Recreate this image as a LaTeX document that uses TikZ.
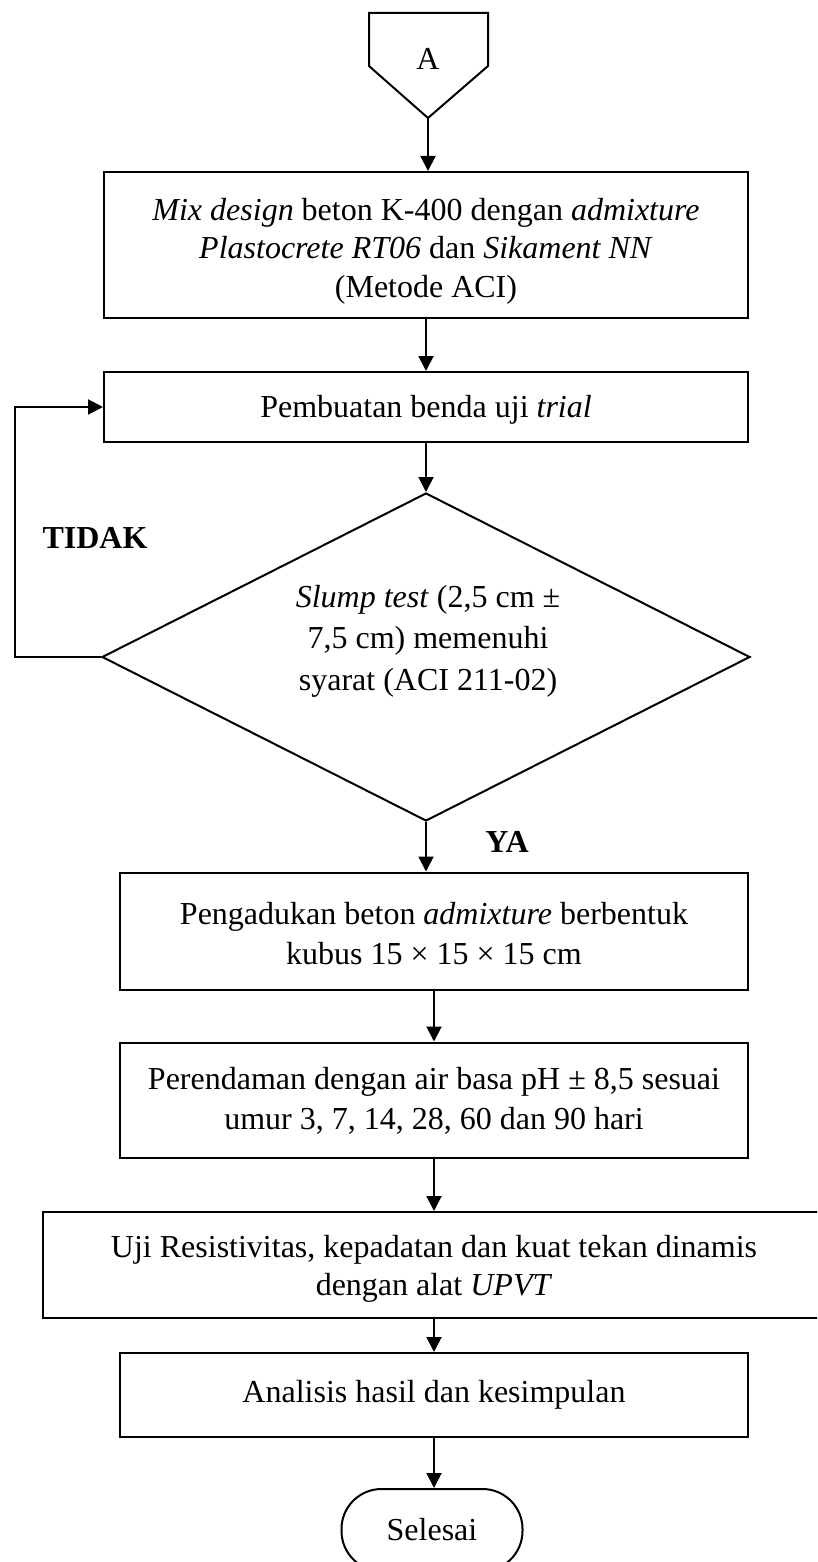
\documentclass[tikz,border=0pt]{standalone}
\usepackage{fontspec}
\setmainfont{Liberation Serif}
\usetikzlibrary{shapes.geometric,arrows.meta}
\begin{document}
\begin{tikzpicture}[x=1pt,y=-1pt,
  txt/.style={align=center, inner sep=0pt, font=\fontsize{32}{39}\selectfont},
  box/.style={draw, line width=2pt, inner sep=0pt},
  flow/.style={line width=2pt, -{Triangle[width=15pt,length=15pt]}},
  lbl/.style={font=\fontsize{32}{39}\selectfont\bfseries}]
\useasboundingbox (0,0) rectangle (817,1562);
\clip (0,0) rectangle (817,1562);
% off-page connector
\draw[line width=2pt, line join=miter] (369,13) -- (488,13) -- (488,66) -- (428,118) -- (369,66) -- cycle;
\coordinate (pa) at (428,118);
\node[txt] (A) at (428,59) {A};
% boxes
\node[box, minimum width=644pt, minimum height=146pt] (b1) at (426,245) {};
\node[txt, font=\fontsize{32}{38.5}\selectfont] (t1) at (426,251)
  {\textit{Mix design} beton K-400 dengan \textit{admixture}\\ \textit{Plastocrete RT06} dan \textit{Sikament NN}\\(Metode ACI)};
\node[box, minimum width=644pt, minimum height=70pt] (b2) at (426,407) {};
\node[txt] (t2) at (426,410) {Pembuatan benda uji \textit{trial}};
\node[draw, diamond, line width=2pt, minimum width=648pt, minimum height=328pt, inner sep=0pt] (d) at (426,657) {};
\node[txt, font=\fontsize{32}{41.5}\selectfont] (dt) at (428,641) {\textit{Slump test} (2,5 cm ±\\7,5 cm) memenuhi\\syarat (ACI 211-02)};
\node[box, minimum width=628pt, minimum height=117pt] (b3) at (434,931) {};
\node[txt, font=\fontsize{32}{40}\selectfont] (t3) at (434,934)
  {Pengadukan beton \textit{admixture} berbentuk\\kubus 15 × 15 × 15 cm};
\node[box, minimum width=628pt, minimum height=115pt] (b4) at (434,1100) {};
\node[txt, font=\fontsize{32}{40}\selectfont] (t4) at (434,1101)
  {Perendaman dengan air basa pH ± 8,5 sesuai\\umur 3, 7, 14, 28, 60 dan 90 hari};
\node[box, minimum width=782pt, minimum height=106pt] (b5) at (434,1265) {};
\node[txt, font=\fontsize{32}{38}\selectfont] (t5) at (434,1269)
  {Uji Resistivitas, kepadatan dan kuat tekan dinamis\\dengan alat \textit{UPVT}};
\node[box, minimum width=628pt, minimum height=84pt] (b6) at (434,1395) {};
\node[txt] (t6) at (434,1395) {Analisis hasil dan kesimpulan};
\node[box, rounded corners=40pt, minimum width=181pt, minimum height=82pt] (t) at (432,1530) {};
\node[txt] (tt) at (432,1530) {Selesai};
% labels
\node[lbl] (tidak) at (95,538) {TIDAK};
\node[lbl] (ya) at (507,842) {YA};
% connectors
\coordinate (lp) at (15,657);
\draw[flow] (d.west) -- (lp) -- (lp |- b2.west) -- (b2.west);
\draw[flow] (pa) -- (pa |- b1.north);
\draw[flow] (b1.south) -- (b2.north);
\draw[flow] (b2.south) -- (d.north);
\draw[flow] (d.south) -- (d.south |- b3.north);
\draw[flow] (b3.south) -- (b4.north);
\draw[flow] (b4.south) -- (b5.north);
\draw[flow] (b5.south) -- (b6.north);
\draw[flow] (b6.south) -- (b6.south |- t.north);
\end{tikzpicture}
\end{document}
